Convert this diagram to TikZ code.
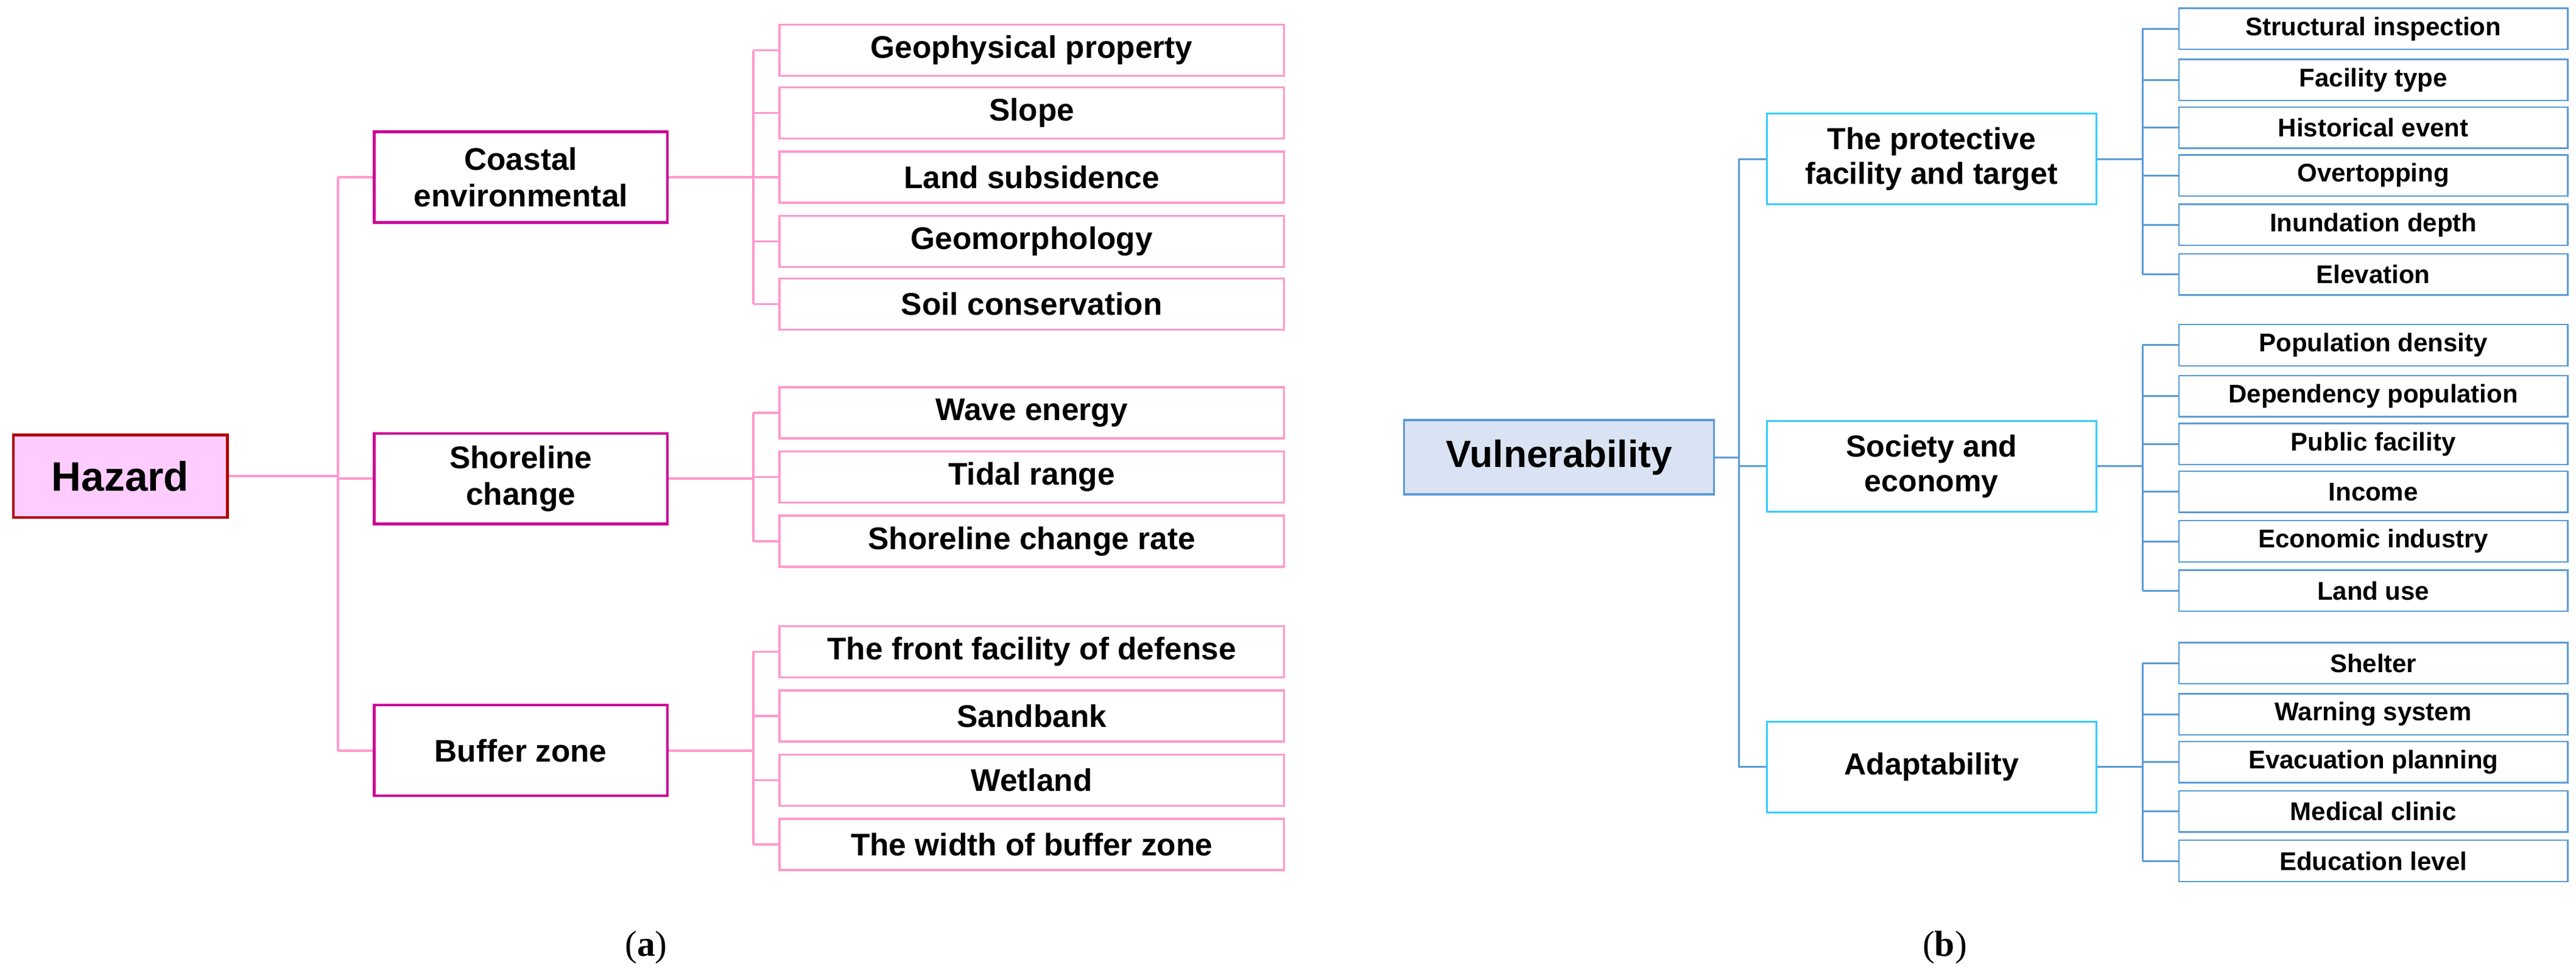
\documentclass[tikz,border=0pt]{standalone}
\usepackage{fontspec}
\setmainfont{Liberation Sans}
\newfontfamily\capfont{Liberation Serif}
\begin{document}
\begin{tikzpicture}[x=1pt,y=-1pt,
  pk/.style={draw=pinkl, line width=1.3pt, fill=white, font=\bfseries\fontsize{19}{21}\selectfont, inner sep=0pt, minimum height=31pt},
  pm/.style={draw=magm, line width=1.6pt, fill=white, font=\bfseries\fontsize{19}{22}\selectfont, align=center, inner sep=0pt, minimum width=178pt, minimum height=55pt},
  bl/.style={draw=bluel, line width=0.9pt, fill=white, font=\bfseries\fontsize{15.5}{17}\selectfont, inner sep=0pt, minimum width=236pt, minimum height=25pt},
  bm/.style={draw=cyanm, line width=1.2pt, fill=white, font=\bfseries\fontsize{18.5}{21}\selectfont, align=center, inner sep=0pt, minimum width=200pt, minimum height=55pt},
  pline/.style={draw=pinkl, line width=1.3pt},
  bline/.style={draw=bluel, line width=1.1pt}]
\definecolor{pinkl}{HTML}{FF99CC}
\definecolor{magm}{HTML}{CC0099}
\definecolor{bluel}{HTML}{5B9BD5}
\definecolor{cyanm}{HTML}{33CCFF}
\useasboundingbox (0,0) rectangle (1563,594);
% left
\node[draw=red!70!black, line width=1.5pt, fill={rgb,255:red,255;green,204;blue,255}, font=\bfseries\fontsize{25}{28}\selectfont, minimum width=130pt, minimum height=50pt, inner sep=0pt] (haz) at (73,289) {Hazard};
\node[pm] (m1) at (316,107.5) {Coastal\\environmental};
\node[pm] (m2) at (316,290.5) {Shoreline\\change};
\node[pm] (m3) at (316,455.5) {Buffer zone};
\coordinate (busA) at (205,0);
\coordinate (busB) at (457,0);
\draw[pline] (haz.east) -- (haz.east -| busA);
\draw[pline] (m1.west -| busA) -- (m3.west -| busA);
\foreach \m in {m1,m2,m3} \draw[pline] (\m.west) -- (\m.west -| busA);
\foreach \n/\y/\t in {a1/30.5/Geophysical property,a2/68.5/Slope,a3/107.5/Land subsidence,a4/146.5/Geomorphology,a5/184.5/Soil conservation,
  b1/250.5/Wave energy,b2/289.5/Tidal range,b3/328.5/Shoreline change rate,
  c1/395.5/The front facility of defense,c2/434.5/Sandbank,c3/473.5/Wetland,c4/512.5/The width of buffer zone}
  \node[pk, minimum width=306pt] (\n) at (626,\y) {\t};
\foreach \m/\f/\l/\ls in {m1/a1/a5/{a1,a2,a3,a4,a5},m2/b1/b3/{b1,b2,b3},m3/c1/c4/{c1,c2,c3,c4}}{
  \draw[pline] (\m.east) -- (\m.east -| busB);
  \draw[pline] (\f.west -| busB) -- (\l.west -| busB);
  \foreach \k in \ls \draw[pline] (\k.west) -- (\k.west -| busB);
}
% right
\node[draw=bluel, line width=1.2pt, fill={rgb,255:red,218;green,227;blue,243}, font=\bfseries\fontsize{23}{26}\selectfont, minimum width=188pt, minimum height=45pt, inner sep=0pt] (vul) at (946,277.5) {Vulnerability};
\node[bm] (n1) at (1172,96.5) {The protective\\facility and target};
\node[bm] (n2) at (1172,283) {Society and\\economy};
\node[bm] (n3) at (1172,465.5) {Adaptability};
\coordinate (busC) at (1055,0);
\coordinate (busD) at (1300,0);
\draw[bline] (vul.east) -- (vul.east -| busC);
\draw[bline] (n1.west -| busC) -- (n3.west -| busC);
\foreach \m in {n1,n2,n3} \draw[bline] (\m.west) -- (\m.west -| busC);
\foreach \n/\y/\t in {d1/17.5/Structural inspection,d2/48.5/Facility type,d3/77.5/Historical event,d4/106.5/Overtopping,d5/136.5/Inundation depth,d6/166.5/Elevation,
  e1/209.5/Population density,e2/240.5/Dependency population,e3/269.5/Public facility,e4/298.5/Income,e5/328.5/Economic industry,e6/358.5/Land use,
  f1/402.5/Shelter,f2/433.5/Warning system,f3/462.5/Evacuation planning,f4/492.5/Medical clinic,f5/522.5/Education level}
  \node[bl] (\n) at (1440,\y) {\t};
\foreach \m/\f/\l/\ls in {n1/d1/d6/{d1,d2,d3,d4,d5,d6},n2/e1/e6/{e1,e2,e3,e4,e5,e6},n3/f1/f5/{f1,f2,f3,f4,f5}}{
  \draw[bline] (\m.east) -- (\m.east -| busD);
  \draw[bline] (\f.west -| busD) -- (\l.west -| busD);
  \foreach \k in \ls \draw[bline] (\k.west) -- (\k.west -| busD);
}
\node[font=\capfont\fontsize{22}{24}\selectfont] (ca) at (392,575) {(\textbf{a})};
\node[font=\capfont\fontsize{22}{24}\selectfont] (cb) at (1180,575) {(\textbf{b})};
\end{tikzpicture}
\end{document}
